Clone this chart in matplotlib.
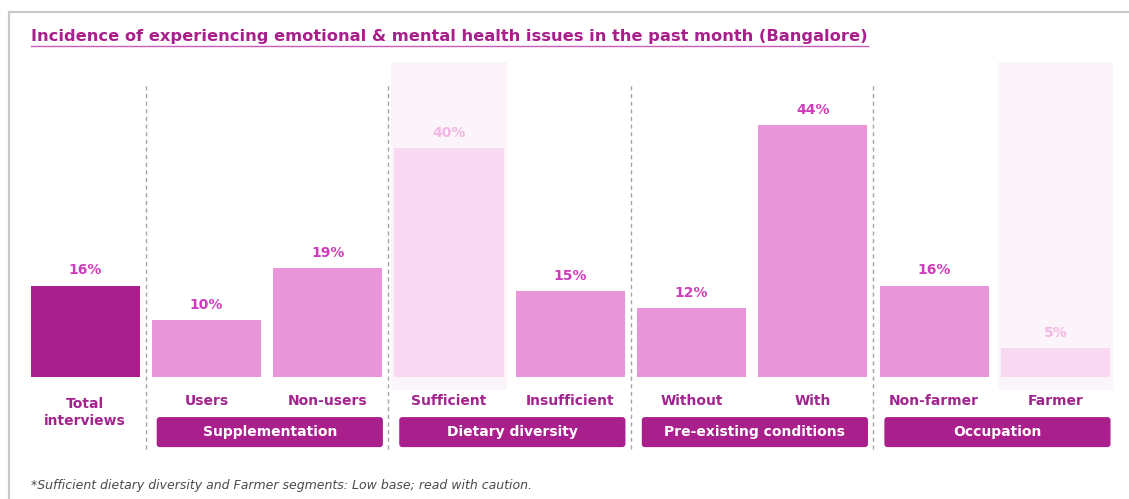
import matplotlib.pyplot as plt
from matplotlib.patches import FancyBboxPatch, Rectangle
from matplotlib.lines import Line2D

# values in percent, one per bar
categories = ["Total\ninterviews", "Users", "Non-users", "Sufficient", "Insufficient",
              "Without", "With", "Non-farmer", "Farmer"]
values = [16, 10, 19, 40, 15, 12, 44, 16, 5]
low_base = [False, False, False, True, False, False, False, False, True]
groups = ["Supplementation", "Dietary diversity", "Pre-existing conditions", "Occupation"]
group_members = [(1, 2), (3, 4), (5, 6), (7, 8)]

DARK = "#a91f8c"
MID = "#e896d9"
FADED = "#f9d8f1"
SHADE = "#fcf4fb"
LABEL = "#a3238f"
VALUE = "#cf3cbb"
VALUE_FADED = "#f3b6e4"

W, H = 1129, 499
fig = plt.figure(figsize=(W / 100, H / 100), dpi=100)
plt.rcParams["font.family"] = ["DejaVu Sans"]

# axes placed in pixel terms: baseline at y=377, ~5.72 px per percent
ax = fig.add_axes([24.5 / W, (H - 390.2) / H, (1116 - 24.5) / W, (390.2 - 62.4) / H])
ax.set_xlim(-0.5, 8.5)
ax.set_ylim(-2.3, 55)
ax.axis("off")

# light panels behind the low-base segments
for i, lb in enumerate(low_base):
    if lb:
        ax.axvspan(i - 0.475, i + 0.475, color=SHADE, zorder=0, lw=0)

colors = []
for i, lb in enumerate(low_base):
    if i == 0:
        colors.append(DARK)
    elif lb:
        colors.append(FADED)
    else:
        colors.append(MID)

x = list(range(len(values)))
bars = ax.bar(x, values, width=0.9, color=colors, zorder=2)

for i, (b, v) in enumerate(zip(bars, values)):
    ax.annotate(f"{v}%", (b.get_x() + b.get_width() / 2, v), xytext=(0, 6),
                textcoords="offset points", ha="center", va="bottom",
                fontsize=10, fontweight="bold",
                color=VALUE_FADED if low_base[i] else VALUE)

# category labels under the bars
for i, c in enumerate(categories):
    y = -6.2 if "\n" in c else -4.2
    ax.text(i, y, c, ha="center", va="center", fontsize=10, fontweight="bold",
            color=LABEL, linespacing=1.3)

# dashed separators between groups
for sx in [0.5, 2.5, 4.5, 6.5]:
    ax.axvline(sx, ymin=-0.18, ymax=0.931, color="#a5a5a5", lw=1.0,
               ls=(0, (3, 2.5)), clip_on=False, zorder=1)

# group boxes
aspect = (121.3 / 5.72)
for name, (a, b) in zip(groups, group_members):
    x0, x1 = a - 0.41, b + 0.455
    y0, y1 = -12.25, -7.0
    box = FancyBboxPatch((x0, y0), x1 - x0, y1 - y0,
                         boxstyle="round,pad=0,rounding_size=0.025",
                         mutation_aspect=aspect, fc=DARK, ec="none",
                         clip_on=False, zorder=3)
    ax.add_patch(box)
    ax.text((x0 + x1) / 2, (y0 + y1) / 2, name, ha="center", va="center",
            fontsize=10, fontweight="bold", color="white", zorder=4)

# frame
fig.add_artist(Rectangle((9 / W, -0.1), 1.2, (H - 12) / H + 0.1,
                         transform=fig.transFigure, fill=False,
                         ec="#c9c9c9", lw=1.6))

title = fig.text(31 / W, (H - 36) / H,
                 "Incidence of experiencing emotional & mental health issues in the past month (Bangalore)",
                 ha="left", va="center", fontsize=11.7, fontweight="bold", color=DARK)
fig.canvas.draw()
bb = title.get_window_extent()
fig.add_artist(Line2D([bb.x0 / W, bb.x1 / W], [(H - 45.5) / H] * 2,
                      transform=fig.transFigure, color="#c95cb9", lw=1.0))

fig.text(31 / W, (H - 485) / H,
         "*Sufficient dietary diversity and Farmer segments: Low base; read with caution.",
         ha="left", va="center", fontsize=9.0, fontstyle="italic", color="#4a4a4a")

fig.savefig("out.png", dpi=100, facecolor="white")
